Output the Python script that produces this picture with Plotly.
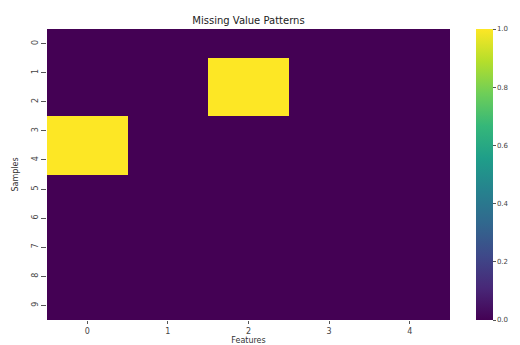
import plotly.graph_objects as go

features = [0, 1, 2, 3, 4]
samples = [0, 1, 2, 3, 4, 5, 6, 7, 8, 9]
missing_mask = [
    [0, 0, 0, 0, 0],
    [0, 0, 1, 0, 0],
    [0, 0, 1, 0, 0],
    [1, 0, 0, 0, 0],
    [1, 0, 0, 0, 0],
    [0, 0, 0, 0, 0],
    [0, 0, 0, 0, 0],
    [0, 0, 0, 0, 0],
    [0, 0, 0, 0, 0],
    [0, 0, 0, 0, 0],
]
cbar_ticks = [0.0, 0.2, 0.4, 0.6, 0.8, 1.0]

font = dict(family="DejaVu Sans", size=8, color="#333333")

fig = go.Figure(go.Heatmap(
    z=missing_mask, x=features, y=samples,
    colorscale="Viridis", zmin=0, zmax=1,
    colorbar=dict(
        x=1.0645, xanchor="left", xpad=0, ypad=0,
        y=0.5, yanchor="middle", len=1, lenmode="fraction",
        thickness=17, outlinewidth=0,
        tickvals=cbar_ticks, ticktext=[f"{t:.1f}" for t in cbar_ticks],
        ticks="outside", ticklen=3, tickcolor="#555555",
        tickfont=dict(family="DejaVu Sans", size=7, color="#444444"),
    ),
))

# page body has an 8px margin, so the figure is 8px smaller
fig.update_layout(
    width=512, height=337,
    margin=dict(l=39, r=70, t=21, b=25, autoexpand=False),
    paper_bgcolor="white", plot_bgcolor="white",
    font=font,
    title=dict(text="Missing Value Patterns", x=0.5, xref="paper", xanchor="center",
               y=1, yref="paper", yanchor="bottom", pad=dict(b=5),
               font=dict(family="DejaVu Sans", size=10, color="#222222")),
)
fig.update_xaxes(
    tickvals=features, ticktext=[str(f) for f in features],
    ticks="outside", ticklen=3, tickcolor="#555555", automargin=False,
    showgrid=False, zeroline=False, showline=False,
    title=dict(text="Features", standoff=0, font=dict(size=8)),
    tickfont=dict(size=8, color="#444444"),
    range=[-0.5, 4.5],
)
fig.update_yaxes(
    tickvals=samples, ticktext=[str(s) for s in samples],
    ticks="outside", ticklen=5, tickcolor="#555555", tickangle=-90, automargin=False,
    showgrid=False, zeroline=False, showline=False,
    autorange="reversed",
    title=dict(text="Samples", standoff=10, font=dict(size=8)),
    tickfont=dict(size=8, color="#444444"),
)

fig.write_html("out.html")
